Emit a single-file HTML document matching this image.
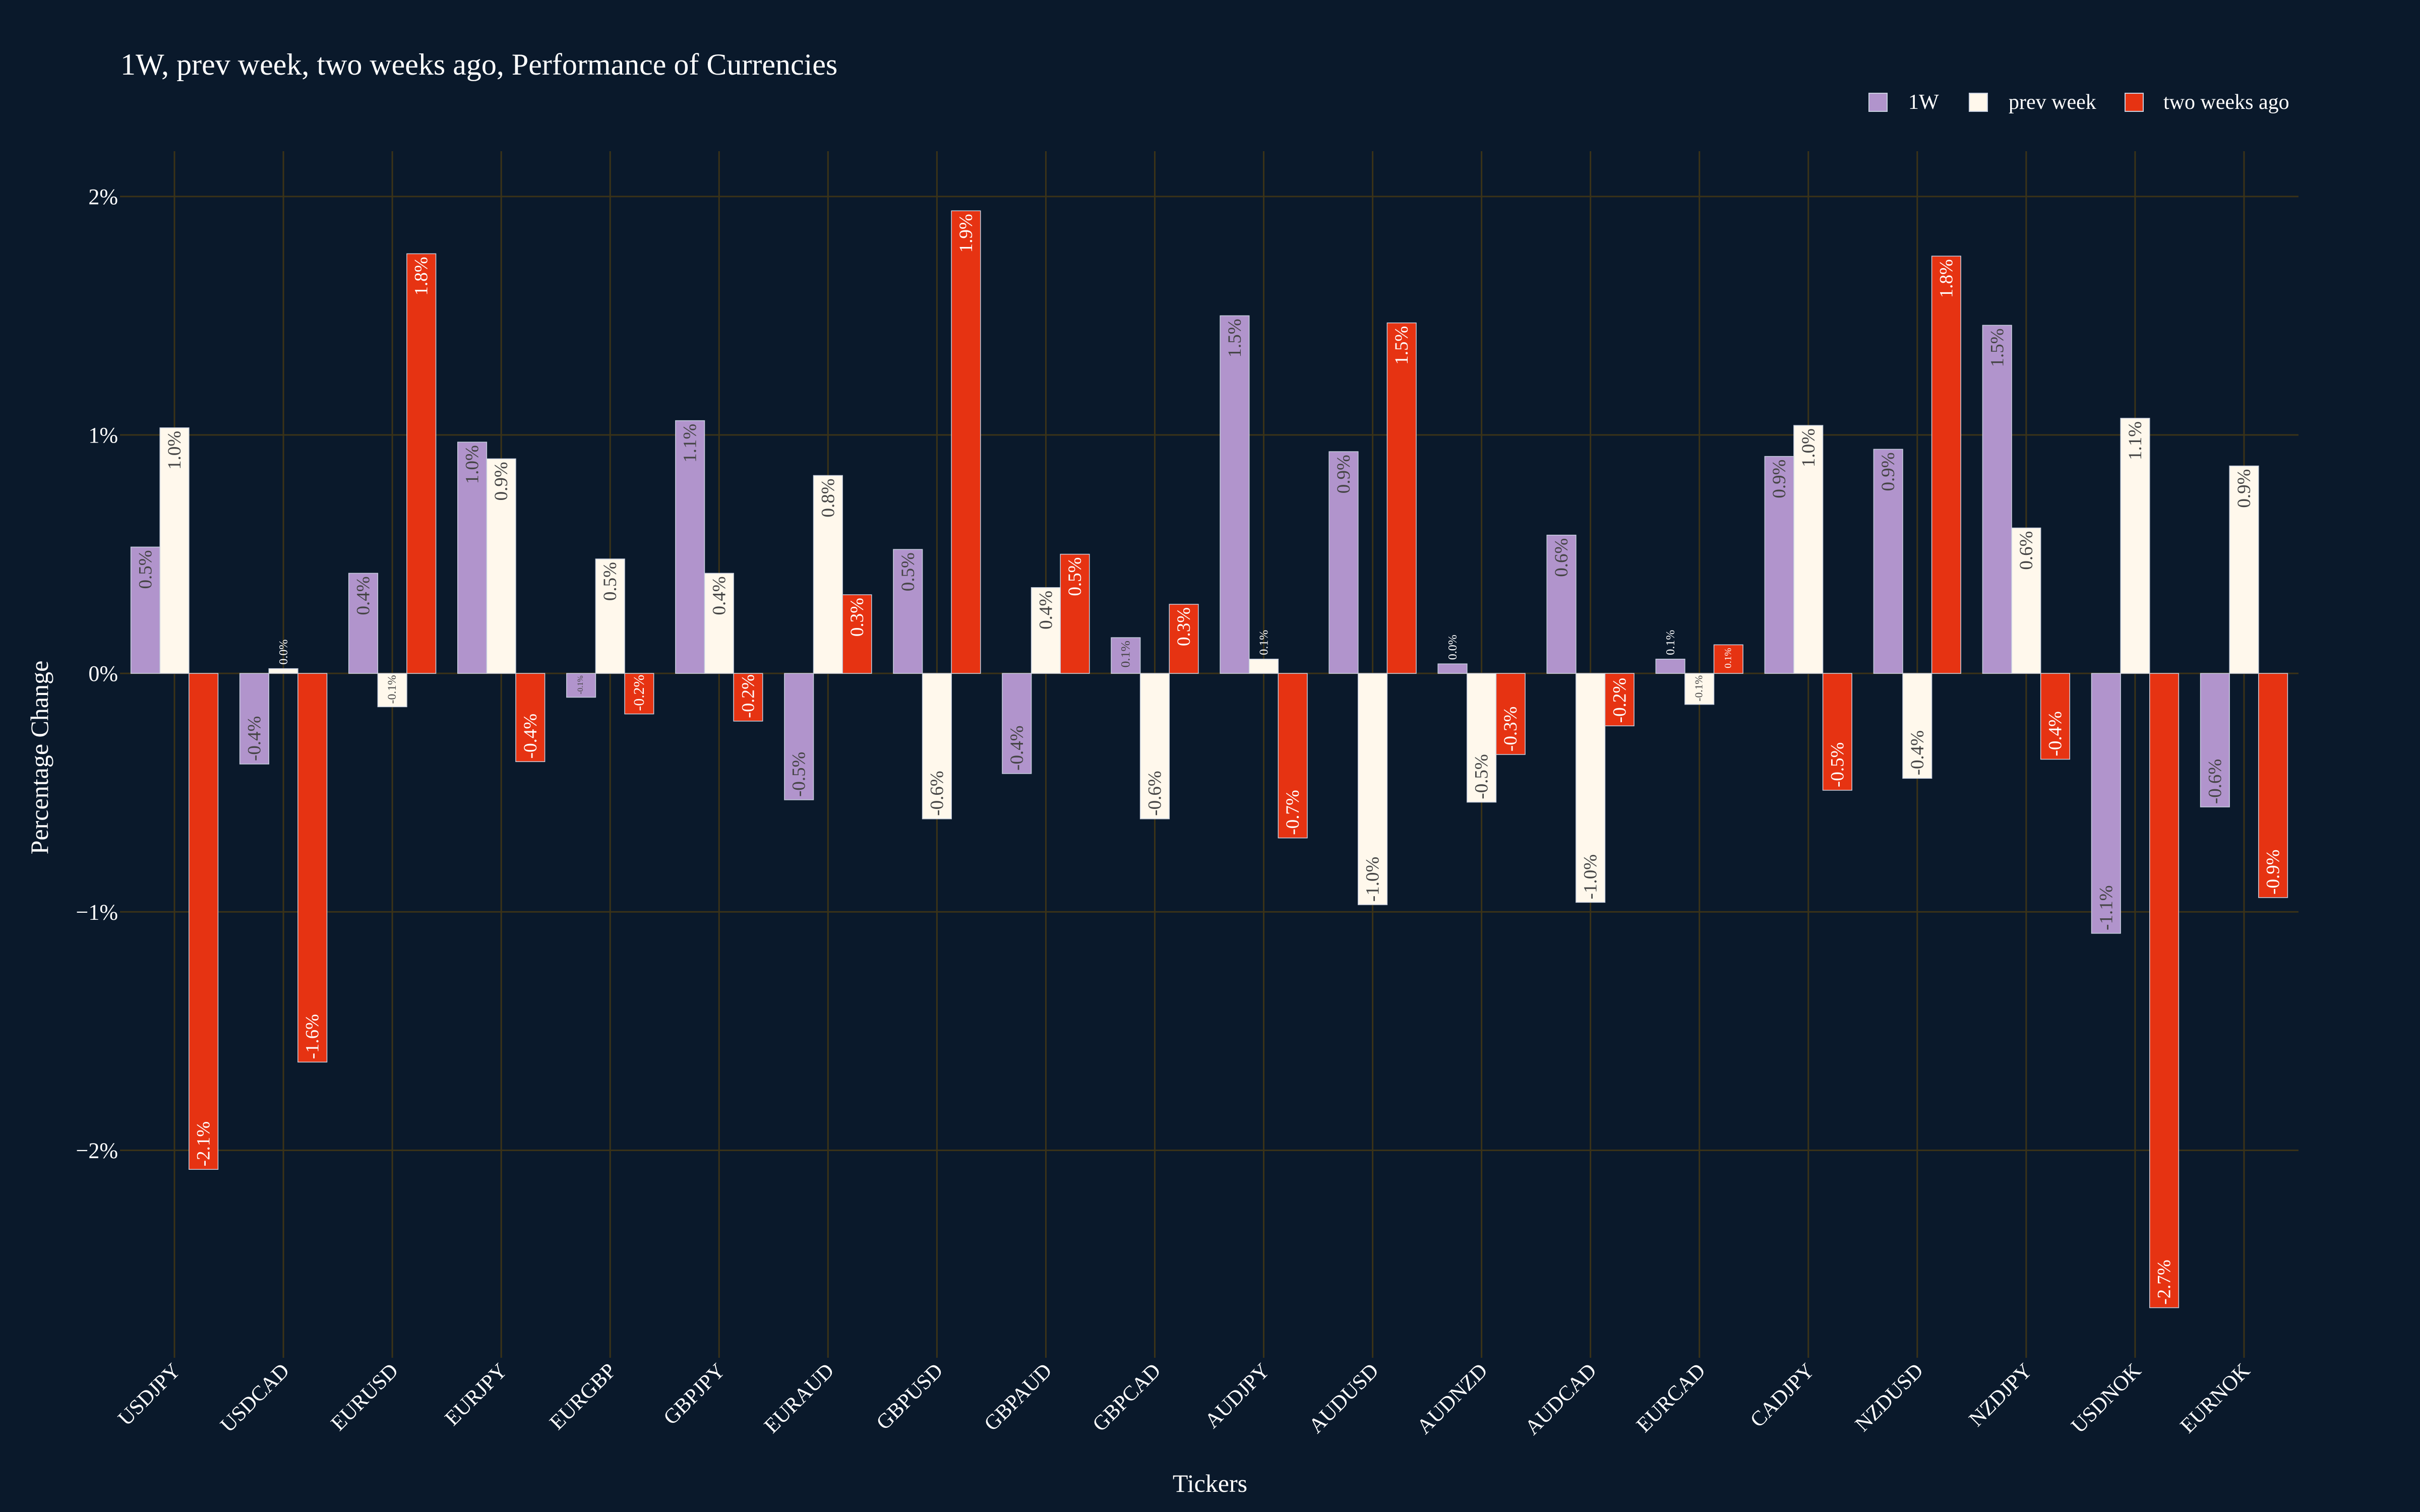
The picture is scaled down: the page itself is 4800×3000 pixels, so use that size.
<!DOCTYPE html>
<html><head><meta charset="utf-8"><style>
html,body{margin:0;padding:0;background:#0a192b;}
svg{display:block;}
text{font-family:"Liberation Serif",serif;}
</style></head>
<body>
<svg id="chart" width="4800" height="3000" viewBox="0 0 4800 3000" xmlns="http://www.w3.org/2000/svg">
<rect x="0" y="0" width="4800" height="3000" fill="#0a192b"/>
<text x="239" y="148" font-size="60" fill="#ffffff">1W, prev week, two weeks ago, Performance of Currencies</text>
<g id="grid"></g>
<g id="bars"></g>
<g id="axes"></g>
<g>
  <g><rect x="3707" y="185" width="36" height="36" fill="#b194cc" stroke="#c8d0e0" stroke-width="2"/><text x="3785" y="216" font-size="42" fill="#fff">1W</text></g>
  <g><rect x="3906" y="185" width="36" height="36" fill="#fff8ec" stroke="#c8d0e0" stroke-width="2"/><text x="3984" y="216" font-size="42" fill="#fff">prev week</text></g>
  <g><rect x="4215" y="185" width="36" height="36" fill="#e63312" stroke="#c8d0e0" stroke-width="2"/><text x="4291" y="216" font-size="42" fill="#fff">two weeks ago</text></g>
</g>
<text transform="translate(95,1503) rotate(-90)" text-anchor="middle" font-size="50" fill="#fff">Percentage Change</text>
<text x="2400" y="2960" text-anchor="middle" font-size="50" fill="#fff">Tickers</text>
</svg>
<script>
const categories = ["USDJPY","USDCAD","EURUSD","EURJPY","EURGBP","GBPJPY","EURAUD","GBPUSD","GBPAUD","GBPCAD","AUDJPY","AUDUSD","AUDNZD","AUDCAD","EURCAD","CADJPY","NZDUSD","NZDJPY","USDNOK","EURNOK"];
const seriesNames = ["1W","prev week","two weeks ago"];
const values1W = [0.53,-0.38,0.42,0.97,-0.10,1.06,-0.53,0.52,-0.42,0.15,1.50,0.93,0.04,0.58,0.06,0.91,0.94,1.46,-1.09,-0.56];
const valuesPrevWeek = [1.03,0.02,-0.14,0.90,0.48,0.42,0.83,-0.61,0.36,-0.61,0.06,-0.97,-0.54,-0.96,-0.13,1.04,-0.44,0.61,1.07,0.87];
const valuesTwoWeeks = [-2.08,-1.63,1.76,-0.37,-0.17,-0.20,0.33,1.94,0.50,0.29,-0.69,1.47,-0.34,-0.22,0.12,-0.49,1.75,-0.36,-2.66,-0.94];
const yTicks = [-2,-1,0,1,2];
const yTickLabels = ["\u22122%","\u22121%","0%","1%","2%"];

const NS="http://www.w3.org/2000/svg";
const L=238,R=4559,T=300,B=2694,yMin=-2.87,yMax=2.19;
const band=(R-L)/categories.length, barW=band*0.8/3;
const y=v=>T+(yMax-v)/(yMax-yMin)*(B-T);
const xc=i=>L+band*(i+0.5);
function mk(tag,attrs,parent){const e=document.createElementNS(NS,tag);for(const k in attrs)e.setAttribute(k,attrs[k]);parent.appendChild(e);return e;}
const grid=document.getElementById('grid'),bars=document.getElementById('bars'),axes=document.getElementById('axes');
const gridCol="#3b3318";
yTicks.forEach((t,i)=>{
  const ln=mk('line',{x1:L,x2:R,y1:y(t),y2:y(t),stroke:gridCol,'stroke-width':3},grid);
  
  
  const tx=mk('text',{x:L-4,y:y(t)+15,'text-anchor':'end','font-size':44,fill:'#fff'},axes);
  tx.textContent=yTickLabels[i];
  
  
});
categories.forEach((c,i)=>{
  const ln=mk('line',{x1:xc(i),x2:xc(i),y1:T,y2:B,stroke:gridCol,'stroke-width':3},grid);
  
  
  const tx=mk('text',{transform:`translate(${xc(i)+14},${B+28}) rotate(-45)`,'text-anchor':'end','font-size':42,fill:'#fff'},axes);
  tx.textContent=c;
  
  
});
const series=[values1W,valuesPrevWeek,valuesTwoWeeks];
const fills=["#b194cc","#fff8ec","#e63312"];
const inTxt=["#444444","#444444","#ffffff"];
series.forEach((vals,s)=>{
  vals.forEach((v,i)=>{
    const x0=xc(i)-1.5*barW+s*barW;
    const y0=y(0),y1=y(v);
    const top=Math.min(y0,y1),h=Math.max(Math.abs(y1-y0),1);
    const r=mk('rect',{x:x0,y:top,width:barW,height:h,fill:fills[s],stroke:'#c8d0e0','stroke-width':1.5},bars);
    
    
    const label=(v<0?'-':'')+Math.abs(v).toFixed(1)+'%';
    const cx=x0+barW/2+12;
    let t;
    if(h<36){
      const fs=24;
      t=mk('text',{transform:`translate(${cx-4},${top-8}) rotate(-90)`,'text-anchor':'start','font-size':fs,fill:'#fff'},bars);
    } else {
      const fs=Math.min(37,(h-12)/2.3);
      if(v>=0){
        t=mk('text',{transform:`translate(${cx-(37-fs)/2.5},${top+6}) rotate(-90)`,'text-anchor':'end','font-size':fs,fill:inTxt[s]},bars);
      } else {
        t=mk('text',{transform:`translate(${cx-(37-fs)/2.5},${top+h-6}) rotate(-90)`,'text-anchor':'start','font-size':fs,fill:inTxt[s]},bars);
      }
    }
    t.textContent=label;
    
    
  });
});
</script>
</body></html>
